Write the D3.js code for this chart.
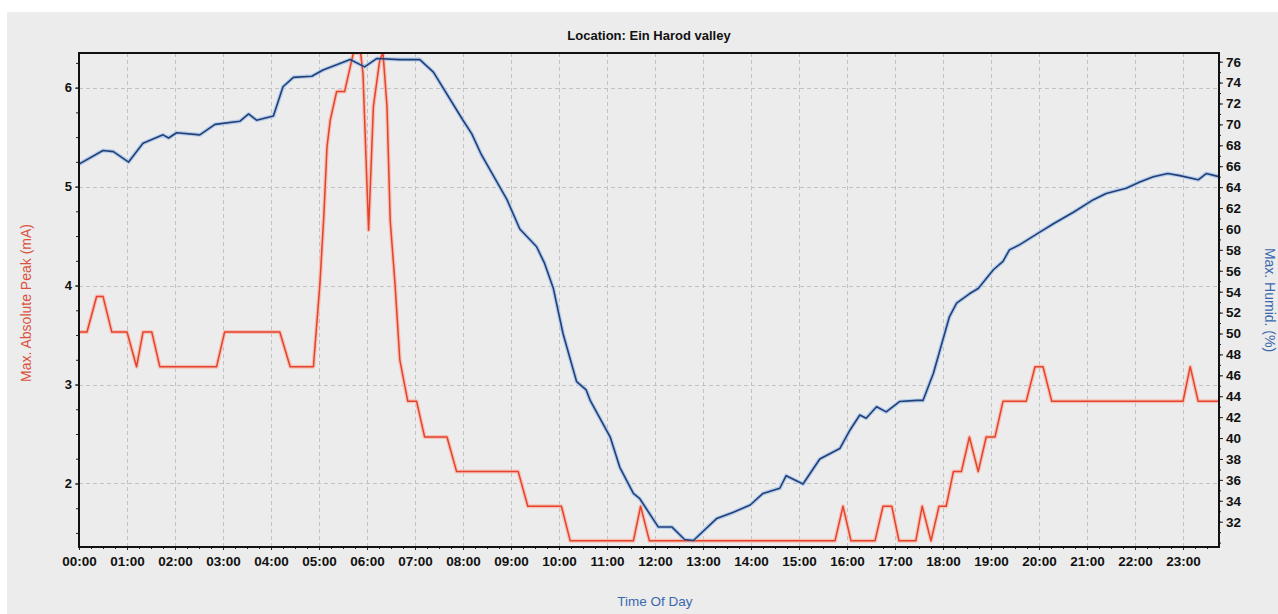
<!DOCTYPE html>
<html>
<head>
<meta charset="utf-8">
<script src="https://cdn.jsdelivr.net/npm/d3@7"></script>
<style>
  html, body { margin: 0; padding: 0; background: #ffffff; }
  svg { display: block; }
  text { font-family: "Liberation Sans", Arial, sans-serif; }
</style>
</head>
<body>
<svg id="chart" width="1278" height="614"></svg>
<script>
// ---------- DATA ----------
const title = "Location: Ein Harod valley";
const xTitle = "Time Of Day";
const leftTitle = "Max. Absolute Peak (mA)";
const rightTitle = "Max. Humid. (%)";

const xTickLabels = ["00:00","01:00","02:00","03:00","04:00","05:00","06:00","07:00","08:00","09:00","10:00","11:00",
  "12:00","13:00","14:00","15:00","16:00","17:00","18:00","19:00","20:00","21:00","22:00","23:00"];
const leftTicks = [2, 3, 4, 5, 6];
const rightTicks = [32,34,36,38,40,42,44,46,48,50,52,54,56,58,60,62,64,66,68,70,72,74,76];

// Humidity (blue, right axis)
const humidTimes = ["00:00","00:30","00:43","01:02","01:20","01:45","01:52","02:02","02:31","02:50","03:21","03:32","03:42",
  "04:03","04:15","04:28","04:51","05:05","05:39","05:57","06:12","06:41","07:06","07:23","08:00","08:11","08:23","08:55",
  "09:11","09:32","09:42","09:53","10:05","10:22","10:34","10:39","11:04","11:16","11:33","11:41","12:04","12:21","12:37",
  "12:48","13:17","13:38","13:59","14:15","14:36","14:44","15:05","15:26","15:51","16:04","16:16","16:24","16:37","16:49",
  "17:06","17:27","17:35","17:48","18:08","18:17","18:33","18:44","19:03","19:15","19:23","19:36","20:01","20:18","20:43",
  "21:08","21:24","21:49","22:06","22:23","22:41","22:56","23:19","23:29","23:45"];
const humidValues = [66.2,67.5,67.4,66.4,68.2,69.0,68.7,69.2,69.0,70.0,70.3,71.0,70.4,
  70.8,73.6,74.5,74.6,75.2,76.2,75.5,76.3,76.2,76.2,75.0,70.4,69.1,67.1,62.8,
  60.0,58.3,56.7,54.3,50.0,45.4,44.6,43.6,40.1,37.2,34.7,34.2,31.5,31.5,30.3,
  30.2,32.3,32.9,33.6,34.7,35.2,36.4,35.6,38.0,39.0,40.8,42.2,41.9,43.0,42.5,
  43.5,43.6,43.6,46.2,51.6,52.9,53.8,54.3,56.1,56.9,58.0,58.5,59.7,60.5,61.6,
  62.8,63.4,63.9,64.5,65.0,65.3,65.1,64.7,65.3,65.0];

// Max absolute peak (red, left axis)
const peakTimes = ["00:00","00:10","00:22","00:30","00:41","01:00","01:12","01:20","01:31","01:41","02:52","03:02","04:11",
  "04:24","04:53","05:01","05:06","05:10","05:14","05:22","05:32","05:39","05:43","05:52","05:55","06:02","06:08","06:16",
  "06:20","06:25","06:29","06:35","06:41","06:51","07:02","07:12","07:40","07:52","09:09","09:21","10:03","10:14","11:33",
  "11:42","11:53","15:45","15:55","16:05","16:35","16:45","16:56","17:05","17:26","17:34","17:45","17:55","18:04","18:13",
  "18:23","18:33","18:44","18:54","19:05","19:15","19:44","19:55","20:05","20:16","23:00","23:09","23:19","23:45"];
const peakValues = [3.53,3.53,3.89,3.89,3.53,3.53,3.18,3.53,3.53,3.18,3.18,3.53,3.53,
  3.18,3.18,4.0,4.7,5.4,5.67,5.96,5.96,6.21,6.35,6.35,6.14,4.56,5.81,6.28,
  6.35,5.81,4.66,4.02,3.25,2.83,2.83,2.47,2.47,2.12,2.12,1.77,1.77,1.42,1.42,
  1.77,1.42,1.42,1.77,1.42,1.42,1.77,1.77,1.42,1.42,1.77,1.42,1.77,1.77,2.12,
  2.12,2.47,2.12,2.47,2.47,2.83,2.83,3.18,3.18,2.83,2.83,3.18,2.83,2.83];

// ---------- CHART ----------
const toHours = s => { const [h, m] = s.split(":").map(Number); return h + m / 60; };

const W = 1278, H = 614;
const plot = { left: 79, right: 1219, top: 53, bottom: 547 };

const svg = d3.select("#chart");

// background (scanned grey page)
svg.append("rect").attr("x", 7).attr("y", 12).attr("width", W - 7).attr("height", H - 12).attr("fill", "#ececec");

const x = d3.scaleLinear().domain([0, 23.75]).range([plot.left, plot.right]);
const yL = d3.scaleLinear().domain([1.358, 6.35]).range([plot.bottom, plot.top]);
const yR = d3.scaleLinear().domain([29.58, 76.83]).range([plot.bottom, plot.top]);

// grid
const grid = svg.append("g").attr("stroke", "#c2c2c2").attr("stroke-width", 1).attr("stroke-dasharray", "4,3");
grid.selectAll("line.h").data(leftTicks).join("line")
  .attr("x1", plot.left).attr("x2", plot.right)
  .attr("y1", d => Math.round(yL(d)) + 0.5).attr("y2", d => Math.round(yL(d)) + 0.5);
grid.selectAll("line.v").data(d3.range(1, 24)).join("line")
  .attr("y1", plot.top).attr("y2", plot.bottom)
  .attr("x1", d => Math.round(x(d)) + 0.5).attr("x2", d => Math.round(x(d)) + 0.5);

// clip
svg.append("clipPath").attr("id", "clip").append("rect")
  .attr("x", plot.left).attr("y", plot.top).attr("width", plot.right - plot.left).attr("height", plot.bottom - plot.top);

const humid = humidTimes.map((t, i) => [toHours(t), humidValues[i]]);
const peak = peakTimes.map((t, i) => [toHours(t), peakValues[i]]);

const lineR = d3.line().x(d => x(d[0])).y(d => yR(d[1]));
const lineL = d3.line().x(d => x(d[0])).y(d => yL(d[1]));

const lines = svg.append("g").attr("clip-path", "url(#clip)");
lines.append("path").attr("d", lineL(peak)).attr("fill", "none").attr("stroke", "#f6c2b8").attr("stroke-width", 4).attr("stroke-linejoin", "round");
lines.append("path").attr("d", lineR(humid)).attr("fill", "none").attr("stroke", "#b4cdea").attr("stroke-width", 4).attr("stroke-linejoin", "round");
lines.append("path").attr("d", lineL(peak)).attr("fill", "none").attr("stroke", "#e2442c").attr("stroke-width", 1.5).attr("stroke-linejoin", "round");
lines.append("path").attr("d", lineR(humid)).attr("fill", "none").attr("stroke", "#233f78").attr("stroke-width", 1.6).attr("stroke-linejoin", "round");

// axes
const axL = d3.axisLeft(yL).tickValues(leftTicks).tickSize(4).tickPadding(3).tickFormat(d3.format("d"));
const axLminor = d3.axisLeft(yL).tickValues(d3.range(1.5, 6.3, 0.25)).tickSize(3).tickFormat("");
const axR = d3.axisRight(yR).tickValues(rightTicks).tickSize(4).tickPadding(3).tickFormat(d3.format("d"));
const axRminor = d3.axisRight(yR).tickValues(d3.range(30, 77, 1)).tickSize(2).tickFormat("");
const axB = d3.axisBottom(x).tickValues(d3.range(0, 24)).tickSize(3).tickPadding(6).tickFormat((d, i) => xTickLabels[i]);
const axBminor = d3.axisBottom(x).tickValues(d3.range(0, 23.75, 0.25)).tickSize(2).tickFormat("");

function styleAxis(size) {
  return g => {
    g.select(".domain").remove();
    g.selectAll(".tick line").attr("stroke", "#222");
    g.selectAll(".tick text").attr("fill", "#111").attr("font-size", size).attr("font-weight", "bold")
      .attr("font-family", "'Liberation Sans', Arial, sans-serif");
  };
}
svg.append("g").attr("transform", `translate(${plot.left},0)`).call(axLminor).call(styleAxis(13));
svg.append("g").attr("transform", `translate(${plot.left},0)`).call(axL).call(styleAxis(13));
svg.append("g").attr("transform", `translate(${plot.right},0)`).call(axRminor).call(styleAxis(13));
svg.append("g").attr("transform", `translate(${plot.right},0)`).call(axR).call(styleAxis(13.5));
svg.append("g").attr("transform", `translate(0,${plot.bottom})`).call(axBminor).call(styleAxis(13));
svg.append("g").attr("transform", `translate(0,${plot.bottom})`).call(axB).call(styleAxis(13.5));

// frame
svg.append("rect").attr("x", plot.left).attr("y", plot.top)
  .attr("width", plot.right - plot.left).attr("height", plot.bottom - plot.top)
  .attr("fill", "none").attr("stroke", "#111").attr("stroke-width", 2);

// titles
svg.append("text").attr("x", (plot.left + plot.right) / 2).attr("y", 40).attr("text-anchor", "middle")
  .attr("font-size", 13).attr("font-weight", "bold").attr("fill", "#111").text(title);
svg.append("text").attr("x", 655).attr("y", 606).attr("text-anchor", "middle")
  .attr("font-size", 13.5).attr("fill", "#3a68ad").text(xTitle);
svg.append("text").attr("transform", "translate(31,303) rotate(-90)").attr("text-anchor", "middle")
  .attr("font-size", 14).attr("fill", "#d9533f").text(leftTitle);
svg.append("text").attr("transform", "translate(1265,300) rotate(90)").attr("text-anchor", "middle")
  .attr("font-size", 14).attr("fill", "#3a68ad").text(rightTitle);
</script>
</body>
</html>
